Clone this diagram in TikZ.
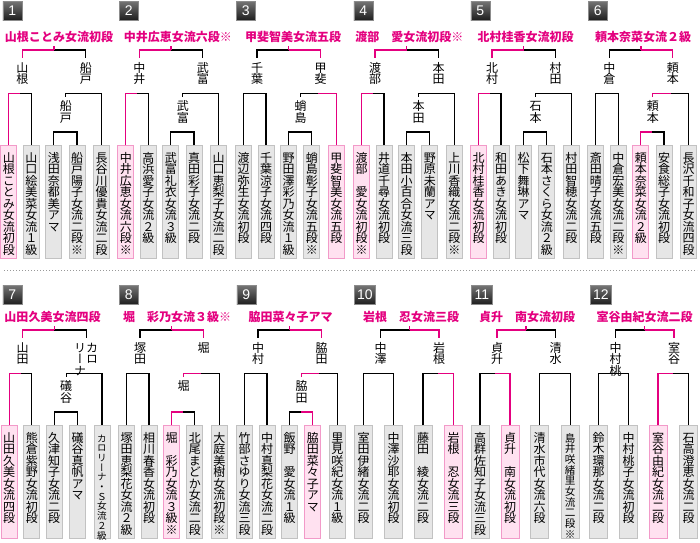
\documentclass[tikz,border=0pt]{standalone}
\usepackage{fontspec}
\newfontfamily\cjk{Noto Sans CJK JP}
\newfontfamily\cjkv[RawFeature=+vert]{Noto Sans CJK JP}
\newfontfamily\numfont{Liberation Sans}
\definecolor{mag}{HTML}{E4007F}
\definecolor{boxg}{HTML}{E6E6E6}
\definecolor{boxgd}{HTML}{C2C2C2}
\definecolor{boxp}{HTML}{FFE1F0}
\definecolor{boxpd}{HTML}{F29AC9}
\newcommand\vjfont{\cjkv\fontsize{12}{11.5}\selectfont}
\newcommand\ttlfont{\cjk\bfseries\fontsize{12}{12}\selectfont}
\def\vtloop#1{\ifx#1\relax\else\hbox to 12pt{\hss#1\hss\vrule height 10.3pt depth 1.5pt width 0pt}\expandafter\vtloop\fi}
\newcommand\vtp[2]{\vtop{\baselineskip=#1\relax\lineskip=0pt\lineskiplimit=-100pt\vtloop#2\relax}}
\newcommand\vt[1]{\vtp{11.5pt}{#1}}
\def\kalo{\hbox{\vt{リーナ}\vt{カロ}}}
\def\karo{\fontsize{9.6}{9.7}\selectfont\vtp{9.7pt}{カロリーナ・Ｓ女流２級}}
\def\shimai{\fontsize{10.6}{10.7}\selectfont\vtp{10.7pt}{島井咲緒里女流二段※}}
\tikzset{
 lk/.style={draw=black, line width=1.3pt},
 lw/.style={draw=mag, line width=1.3pt},
 pbox/.style={draw=boxgd, fill=boxg, line width=0.9pt, anchor=north, minimum width=16pt, minimum height=113pt, inner sep=0pt},
 pw/.style={draw=boxpd, fill=boxp},
 ptxt/.style={anchor=north, inner sep=0pt, font=\vjfont},
 lbl/.style={anchor=north, inner sep=0pt, font=\vjfont},
 ttl/.style={inner sep=0pt, text=mag, font=\ttlfont},
 badge/.style={anchor=west, minimum width=19pt, minimum height=18.5pt, inner sep=0pt, top color=black!55, bottom color=black!88, draw=black!45, line width=0.6pt, text=white, font=\numfont\fontsize{14}{14}\selectfont},
 sepline/.style={draw=black!40, line width=1pt, dotted}
}
\newcommand\resetst{\tikzset{bA/.style={},bB/.style={},bC/.style={},bD/.style={},bE/.style={},
 sTa/.style={lk},sTb/.style={lk},sLa/.style={lk},sLb/.style={lk},sIa/.style={lk},sIb/.style={lk},sRa/.style={lk},sRb/.style={lk}}}
\newcommand\setfive{\resetst
 \ifcase\CH\or
 \tikzset{bA/.style={pw},sTa/.style={lw},sLa/.style={lw}}\or
 \tikzset{bB/.style={pw},sTa/.style={lw},sLb/.style={lw}}\or
 \tikzset{bC/.style={pw},sTb/.style={lw},sRa/.style={lw},sIa/.style={lw}}\or
 \tikzset{bD/.style={pw},sTb/.style={lw},sRa/.style={lw},sIb/.style={lw}}\or
 \tikzset{bE/.style={pw},sTb/.style={lw},sRb/.style={lw}}\fi}
\newcommand\setfour{\resetst
 \ifcase\CH\or
 \tikzset{bA/.style={pw},sTa/.style={lw},sLa/.style={lw}}\or
 \tikzset{bB/.style={pw},sTa/.style={lw},sLb/.style={lw}}\or
 \tikzset{bC/.style={pw},sTb/.style={lw},sRa/.style={lw}}\or
 \tikzset{bD/.style={pw},sTb/.style={lw},sRb/.style={lw}}\fi}
% #1 title #2 left label #3 inner label #4 right label #5-#9 players
\newcommand\five[9]{\setfive
 \node[ttl] (p\ID-t) at (\TX,36.7+\PY) {#1};
 \node[pbox,bA] (p\ID-a) at (\PX,145+\PY) {};
 \node[pbox,bB] (p\ID-b) at (\PX+22.6,145+\PY) {};
 \node[pbox,bC] (p\ID-c) at (\PX+45,145+\PY) {};
 \node[pbox,bD] (p\ID-d) at (\PX+68.3,145+\PY) {};
 \node[pbox,bE] (p\ID-e) at (\PX+92.8,145+\PY) {};
 \node[ptxt] (p\ID-at) at ([yshift=-6.5pt]p\ID-a.north) {\vt{#5}};
 \node[ptxt] (p\ID-bt) at ([yshift=-6.5pt]p\ID-b.north) {\vt{#6}};
 \node[ptxt] (p\ID-ct) at ([yshift=-6.5pt]p\ID-c.north) {\vt{#7}};
 \node[ptxt] (p\ID-dt) at ([yshift=-6.5pt]p\ID-d.north) {\vt{#8}};
 \node[ptxt] (p\ID-et) at ([yshift=-6.5pt]p\ID-e.north) {\vt{#9}};
 \node[lbl] (p\ID-l) at (\PX+13.5,61.5+\PY) {\vt{#2}};
 \node[lbl] (p\ID-i) at (\PX+57,100+\PY) {\vt{#3}};
 \node[lbl] (p\ID-r) at (\PX+77,61.5+\PY) {\vt{#4}};
 \coordinate (p\ID-ML) at (\PX+11.3,93.3+\PY);
 \coordinate (p\ID-MI) at (\PX+56.65,132+\PY);
 \coordinate (p\ID-MR) at (\PX+74.9,93.3+\PY);
 \coordinate (p\ID-MT) at (\PX+45.25,50+\PY);
 \draw[sLa] (p\ID-a.north) |- (p\ID-ML);
 \draw[sLb] (p\ID-b.north) |- (p\ID-ML);
 \draw[sIa] (p\ID-c.north) |- (p\ID-MI);
 \draw[sIb] (p\ID-d.north) |- (p\ID-MI);
 \draw[sRa] ([yshift=3.5pt]p\ID-i.north) |- (p\ID-MR);
 \draw[sRb] (p\ID-e.north) |- (p\ID-MR);
 \draw[sTa] ([yshift=4pt]p\ID-l.north) |- (p\ID-MT);
 \draw[sTb] ([yshift=4pt]p\ID-r.north) |- (p\ID-MT);
 \draw[lw, shorten >=3.5pt] (p\ID-MT) -- (p\ID-MT |- p\ID-t.south);
}
% #1 title #2 left label #3 right label #4-#7 players
\newcommand\four[7]{\setfour
 \node[ttl] (p\ID-t) at (\TX,36.7+\PY) {#1};
 \node[pbox,bA,minimum width=18pt] (p\ID-a) at (\PX,145+\PY) {};
 \node[pbox,bB,minimum width=18pt] (p\ID-b) at (\PX+30,145+\PY) {};
 \node[pbox,bC,minimum width=18pt] (p\ID-c) at (\PX+59.5,145+\PY) {};
 \node[pbox,bD,minimum width=18pt] (p\ID-d) at (\PX+90.2,145+\PY) {};
 \node[ptxt] (p\ID-at) at ([yshift=-6.5pt]p\ID-a.north) {\vt{#4}};
 \node[ptxt] (p\ID-bt) at ([yshift=-6.5pt]p\ID-b.north) {\vt{#5}};
 \node[ptxt] (p\ID-ct) at ([yshift=-6.5pt]p\ID-c.north) {\vt{#6}};
 \node[ptxt] (p\ID-dt) at ([yshift=-6.5pt]p\ID-d.north) {\vt{#7}};
 \node[lbl] (p\ID-l) at (\PX+17,61.5+\PY) {\vt{#2}};
 \node[lbl] (p\ID-r) at (\PX+75.5,61.5+\PY) {\vt{#3}};
 \coordinate (p\ID-ML) at (\PX+15,93.3+\PY);
 \coordinate (p\ID-MR) at (\PX+74.85,93.3+\PY);
 \coordinate (p\ID-MT) at (\PX+46,50+\PY);
 \draw[sLa] (p\ID-a.north) |- (p\ID-ML);
 \draw[sLb] (p\ID-b.north) |- (p\ID-ML);
 \draw[sRa] (p\ID-c.north) |- (p\ID-MR);
 \draw[sRb] (p\ID-d.north) |- (p\ID-MR);
 \draw[sTa] ([yshift=4pt]p\ID-l.north) |- (p\ID-MT);
 \draw[sTb] ([yshift=4pt]p\ID-r.north) |- (p\ID-MT);
 \draw[lw, shorten >=3.5pt] (p\ID-MT) -- (p\ID-MT |- p\ID-t.south);
}
\begin{document}
\begin{tikzpicture}[x=1pt,y=-1pt]
\useasboundingbox (0,0) rectangle (700,542);
\fill[white] (0,0) rectangle (700,542);
% badges
\node[badge] (n1) at (2.5,10.8) {1};
\node[badge] (n2) at (119,10.8) {2};
\node[badge] (n3) at (236,10.8) {3};
\node[badge] (n4) at (353.5,10.8) {4};
\node[badge] (n5) at (470.5,10.8) {5};
\node[badge] (n6) at (588,10.8) {6};
\node[badge] (n7) at (2.5,295) {7};
\node[badge] (n8) at (119,295) {8};
\node[badge] (n9) at (236.5,295) {9};
\node[badge,minimum width=21pt] (n10) at (354,295) {10};
\node[badge,minimum width=21pt] (n11) at (471,295) {11};
\node[badge,minimum width=21pt] (n12) at (590,295) {12};
% separator
\coordinate (sepL) at (4,270);
\coordinate (sepR) at (697,270);
\draw[sepline] (sepL) -- (sepR);
% top row
\def\PY{0}
\def\ID{1}\def\PX{8.8}\def\TX{59}\def\CH{1}
\five{山根ことみ女流初段}{山根}{船戸}{船戸}{山根ことみ女流初段}{山口絵美菜女流１級}{浅田奈都美アマ}{船戸陽子女流二段※}{長谷川優貴女流二段}
\def\ID{2}\def\PX{125.8}\def\TX{177.8}\def\CH{1}
\five{中井広恵女流六段※}{中井}{武富}{武富}{中井広恵女流六段※}{高浜愛子女流２級}{武富礼衣女流３級}{真田彩子女流二段}{山口恵梨子女流二段}
\def\ID{3}\def\PX{243.5}\def\TX{293.2}\def\CH{5}
\five{甲斐智美女流五段}{千葉}{蛸島}{甲斐}{渡辺弥生女流初段}{千葉涼子女流四段}{野田澤彩乃女流１級}{蛸島彰子女流五段※}{甲斐智美女流五段}
\def\ID{4}\def\PX{361.5}\def\TX{409.3}\def\CH{1}
\five{渡部　愛女流初段※}{渡部}{本田}{本田}{渡部　愛女流初段※}{井道千尋女流初段}{本田小百合女流三段}{野原未蘭アマ}{上川香織女流二段※}
\def\ID{5}\def\PX{478.5}\def\TX{525.5}\def\CH{1}
\five{北村桂香女流初段}{北村}{石本}{村田}{北村桂香女流初段}{和田あき女流初段}{松下舞琳アマ}{石本さくら女流２級}{村田智穂女流二段}
\def\ID{6}\def\PX{595.8}\def\TX{643}\def\CH{3}
\five{頼本奈菜女流２級}{中倉}{頼本}{頼本}{斎田晴子女流五段}{中倉宏美女流二段※}{頼本奈菜女流２級}{安食総子女流初段}{長沢千和子女流四段}
% bottom row
\def\PY{280}
\def\ID{7}\def\PX{9.2}\def\TX{52.5}\def\CH{1}
\five{山田久美女流四段}{山田}{礒谷}{\kalo}{山田久美女流四段}{熊倉紫野女流初段}{久津知子女流二段}{礒谷真帆アマ}{\karo}
\def\ID{8}\def\PX{126.5}\def\TX{177}\def\CH{3}
\five{堀　彩乃女流３級※}{塚田}{堀}{堀}{塚田恵梨花女流２級}{相川春香女流初段}{堀　彩乃女流３級※}{北尾まどか女流二段}{大庭美樹女流初段※}
\def\ID{9}\def\PX{244.5}\def\TX{290.7}\def\CH{4}
\five{脇田菜々子アマ}{中村}{脇田}{脇田}{竹部さゆり女流三段}{中村真梨花女流二段}{飯野　愛女流１級}{脇田菜々子アマ}{里見咲紀女流１級}
\def\ID{10}\def\PX{363.5}\def\TX{411}\def\CH{4}
\four{岩根　忍女流三段}{中澤}{岩根}{室田伊緒女流二段}{中澤沙耶女流初段}{藤田　綾女流二段}{岩根　忍女流三段}
\def\ID{11}\def\PX{480}\def\TX{527}\def\CH{2}
\four{貞升　南女流初段}{貞升}{清水}{高群佐知子女流三段}{貞升　南女流初段}{清水市代女流六段}{\shimai}
\def\ID{12}\def\PX{598.5}\def\TX{644.7}\def\CH{3}
\four{室谷由紀女流二段}{中村桃}{室谷}{鈴木環那女流二段}{中村桃子女流初段}{室谷由紀女流二段}{石高澄恵女流二段}
\end{tikzpicture}
\end{document}
